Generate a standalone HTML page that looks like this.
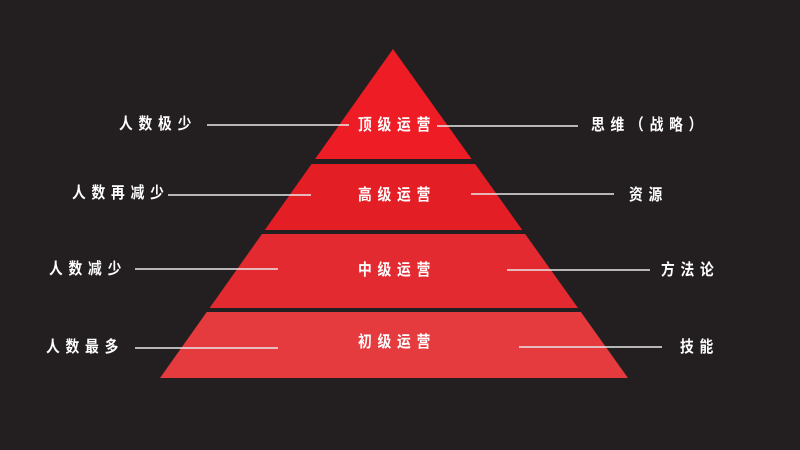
<!DOCTYPE html>
<html><head><meta charset="utf-8"><style>
html,body{margin:0;padding:0}
body{width:800px;height:450px;background:#231f20;position:relative;overflow:hidden;font-family:"Liberation Sans","Noto Sans CJK SC",sans-serif}
.t{position:absolute;color:#fff;font-size:16px;font-weight:bold;letter-spacing:6.7px;line-height:16px;white-space:nowrap;transform:scaleX(0.86);transform-origin:0 0}
svg{position:absolute;left:0;top:0}
</style></head><body>
<svg width="800" height="450">
<defs><clipPath id="c"><polygon points="393,49 160,378 628,378"/></clipPath></defs>
<g clip-path="url(#c)">
<rect x="0" y="40" width="800" height="119" fill="#ee1c24"/>
<rect x="0" y="164" width="800" height="66" fill="#e41e25"/>
<rect x="0" y="234" width="800" height="74" fill="#e32a30"/>
<rect x="0" y="312" width="800" height="70" fill="#e53a3e"/>
</g>
<g stroke="#e8e8e8" stroke-width="1.5">
<line x1="207" y1="125" x2="349" y2="125"/>
<line x1="168" y1="195" x2="311" y2="195"/>
<line x1="135" y1="269" x2="278" y2="269"/>
<line x1="135" y1="348" x2="278" y2="348"/>
<line x1="437" y1="126" x2="578" y2="126"/>
<line x1="471" y1="194" x2="614" y2="194"/>
<line x1="507" y1="270" x2="650" y2="270"/>
<line x1="519" y1="347" x2="662" y2="347"/>
</g>
</svg>
<div class="t" style="left:119px;top:117px">人数极少</div>
<div class="t" style="left:72px;top:186px">人数再减少</div>
<div class="t" style="left:49px;top:262px">人数减少</div>
<div class="t" style="left:46px;top:340px">人数最多</div>
<div class="t" style="left:358px;top:118px">顶级运营</div>
<div class="t" style="left:358px;top:188px">高级运营</div>
<div class="t" style="left:358px;top:263px">中级运营</div>
<div class="t" style="left:358px;top:335px">初级运营</div>
<div class="t" style="left:591px;top:118px">思维（战略）</div>
<div class="t" style="left:629px;top:188px">资源</div>
<div class="t" style="left:661px;top:263px">方法论</div>
<div class="t" style="left:680px;top:340px">技能</div>
</body></html>
